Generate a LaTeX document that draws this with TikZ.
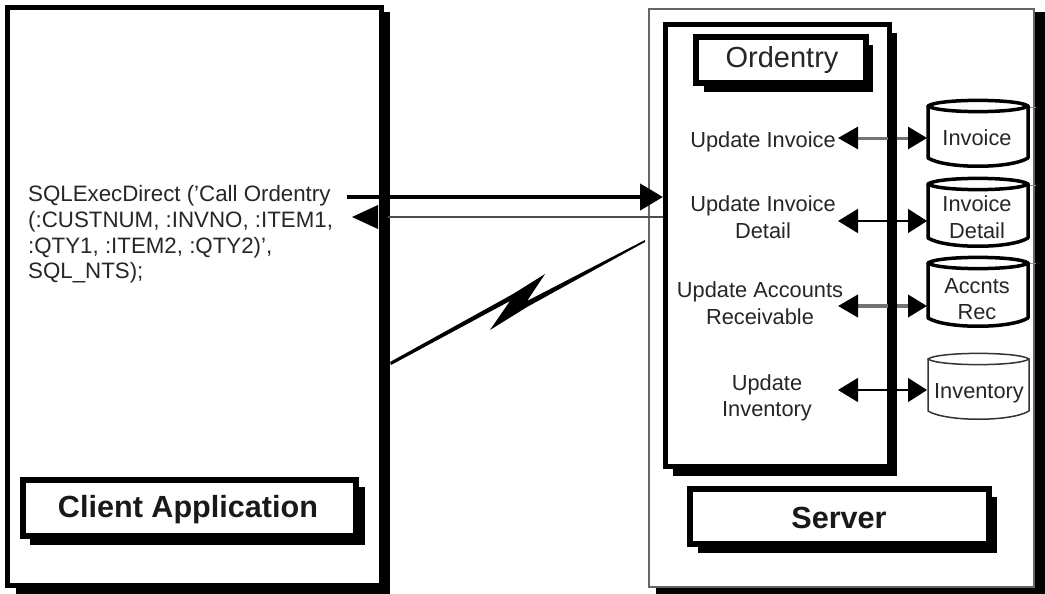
\documentclass[tikz,border=0pt]{standalone}
\usepackage{fontspec}
\setmainfont{Liberation Sans}
\usetikzlibrary{arrows.meta,fit}
\tikzset{
  panel/.style={draw=black,fill=white,inner sep=0pt,outer sep=0pt},
  shadowbox/.style={fill=black,inner sep=0pt,outer sep=0pt},
  body/.style={font=\fontsize{21.8}{26.5}\selectfont,align=center,inner sep=0pt,text=black!85},
  side/.style={font=\fontsize{22.3}{25.7}\selectfont,align=left,inner sep=0pt,text=black!85},
  title/.style={font=\fontsize{30.6}{34}\bfseries\selectfont,inner sep=0pt,text=black!90},
  both/.style={{Triangle[length=20pt,width=24pt]}-{Triangle[length=19pt,width=24pt]}},
  dbbody/.style={draw=black,fill=white,line join=round},
}
\newcommand{\dbshape}[7]{% name, x0, x1, ytop, ybottom, line width, line colour
  \draw[dbbody,line width=#6,draw=#7] (#2,#4+6) -- (#3,#4+6) -- (#3,#5-9)
    .. controls (#3-18,#5+2) and (#2+18,#5+2) .. (#2,#5-9) -- cycle;
  \draw[dbbody,line width=#6,draw=#7] (#2,#4+6)
    .. controls (#2+10,#4-1.5) and (#3-10,#4-1.5) .. (#3,#4+6)
    .. controls (#3-10,#4+13.5) and (#2+10,#4+13.5) .. (#2,#4+6) -- cycle;
  \coordinate (#1) at (#2,{(#4+#5)/2});
}
\begin{document}
\begin{tikzpicture}[x=1pt,y=-1pt]
\useasboundingbox (0,0) rectangle (1045,594);
\fill[white] (0,0) rectangle (1045,594);

% client
\node[shadowbox,fit={(16,12)(390,594)}] (clientshadow) {};
\node[panel,line width=5pt,fit={(7.5,7.5)(381,585.5)}] (client) {};
\node[side,anchor=north west] (sql) at (28,185.5) {SQLExecDirect ('Call Ordentry\\(:CUSTNUM, :INVNO, :ITEM1,\\:QTY1, :ITEM2, :QTY2)',\\SQL\_NTS);};
\node[shadowbox,fit={(30,487)(365,545)}] (clabelshadow) {};
\node[panel,line width=6pt,fit={(23,480)(356,536)}] (clabel) {};
\node[title] (clabeltext) at (188,510) {Client Application};

% server
\node[shadowbox,fit={(656,12)(1045,594)}] (servershadow) {};
\node[panel,draw=black!60,line width=2pt,fit={(649,9.5)(1034,587)}] (server) {};

% ordentry
\node[shadowbox,fit={(673,33)(897,476)}] (ordshadow) {};
\node[panel,line width=5pt,fit={(665.5,24.5)(889.5,466.5)}] (ord) {};
\node[shadowbox,fit={(704,45)(873,92)}] (otshadow) {};
\node[panel,line width=6pt,fit={(696,37)(866,83)}] (ot) {};
\node[font=\fontsize{29}{33}\selectfont,inner sep=0pt,text=black!85] (ottext) at (782,60) {Ordentry};
\node[shadowbox,fit={(698,497)(997,553)}] (slabelshadow) {};
\node[panel,line width=6pt,fit={(690,489)(989,544)}] (slabel) {};
\node[title] (slabeltext) at (839,518) {Server};

% cylinders
\dbshape{dba}{928}{1028}{100}{167}{3.5pt}{black}
\dbshape{dbb}{928}{1028}{178}{247}{3.5pt}{black}
\dbshape{dbc}{928}{1028}{257}{327}{3.5pt}{black}
\dbshape{dbd}{928}{1029}{353}{420}{1.5pt}{black!80}
\node[body] (dbat) at (977,138) {Invoice};
\node[body] (dbbt) at (977,217) {Invoice\\Detail};
\node[body] (dbct) at (977,299) {Accnts\\Rec};
\node[body] (dbdt) at (979,393) {Inventory};

% side ticks
\coordinate (ta) at (1030,107); \coordinate (tae) at (1036,107);
\coordinate (tb) at (1030,185); \coordinate (tbe) at (1036,185);
\coordinate (tc) at (1030,263); \coordinate (tce) at (1036,263);
\draw[black!45,line width=0.8pt] (ta)--(tae) (tb)--(tbe) (tc)--(tce);

% row labels
\node[body] (ra) at (763,141.5) {Update Invoice};
\node[body] (rb) at (763,217) {Update Invoice\\Detail};
\node[body] (rc) at (760,303) {Update Accounts\\Receivable};
\node[body] (rd) at (767,398) {Update\\Inventory};

% row arrows
\coordinate (ra1) at (838,138); \coordinate (ra2) at (927,138);
\coordinate (rb1) at (838,221); \coordinate (rb2) at (927,221);
\coordinate (rc1) at (838,306); \coordinate (rc2) at (927,306);
\coordinate (rd1) at (838,390); \coordinate (rd2) at (927,390);
\draw[black!55,line width=3pt,{Triangle[length=20pt,width=22pt,fill=black,color=black]}-{Triangle[length=19pt,width=22pt,fill=black,color=black]}] (ra1)--(ra2);
\draw[both,black,line width=1.5pt] (rb1)--(rb2);
\draw[black!55,line width=4pt,{Triangle[length=20pt,width=22pt,fill=black,color=black]}-{Triangle[length=19pt,width=22pt,fill=black,color=black]}] (rc1)--(rc2);
\draw[both,black,line width=1.5pt] (rd1)--(rd2);
% right bar re-drawn over the arrows
\coordinate (barT) at (892.5,33); \coordinate (barB) at (892.5,476);
\draw[black,line width=9pt] (barT)--(barB);

% call arrows
\coordinate (callS) at (347,197); \coordinate (callE) at (663,197);
\coordinate (retS) at (663,217); \coordinate (retE) at (352,217);
\draw[line width=4.5pt,-{Triangle[length=23pt,width=26pt]}] (callS)--(callE);
\draw[black!70,line width=1.6pt] (retS)--(388,217);
\fill[black] (352,217) -- (378,205) -- (378,229) -- cycle;

% lightning
\coordinate (zA) at (390,362); \coordinate (zB) at (645,240);
\fill[black,line join=round] (zA) -- (513,294) -- (545,274) -- (527,301) -- (zB) -- (645,242) -- (527,307) -- (490,330) -- (510,301) -- (391,365) -- cycle;
\end{tikzpicture}
\end{document}
